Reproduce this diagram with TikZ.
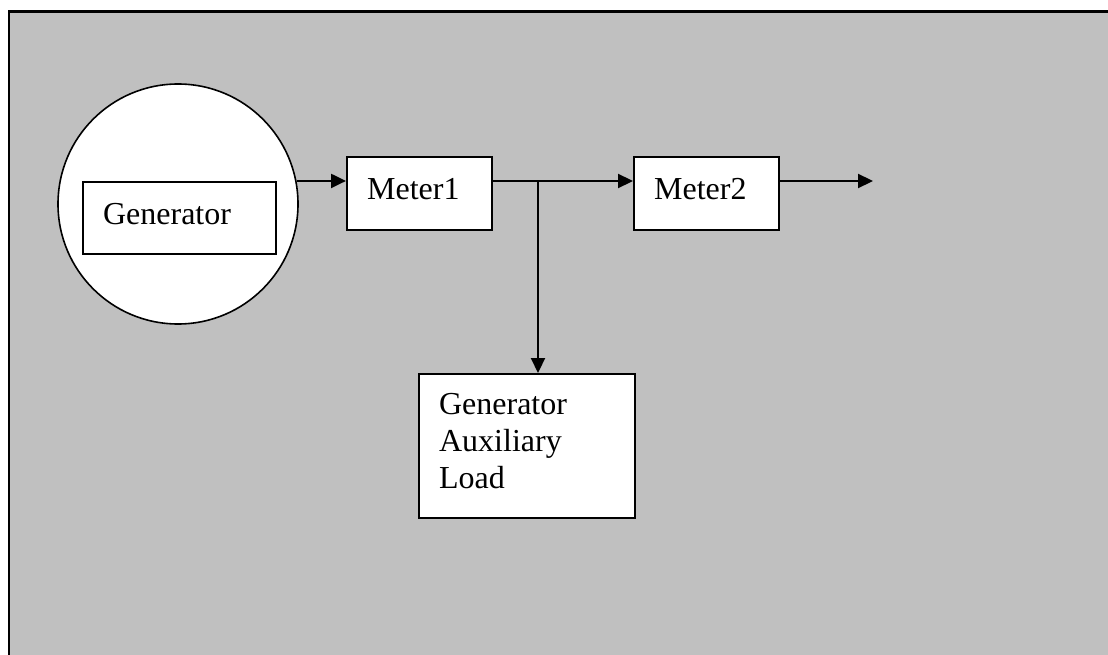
\documentclass[tikz,border=0pt]{standalone}
\usepackage{fontspec}
\setmainfont{Liberation Serif}
\usetikzlibrary{
    arrows.meta,
    positioning,
}
\definecolor{panelgray}{HTML}{C0C0C0}
\tikzstyle{box}=[draw,rectangle,fill=white,line width=2.2pt,anchor=north west,align=left,inner xsep=20pt,inner ysep=0pt,text height=22pt,text depth=10pt]
\tikzstyle{arr}=[line width=2.2pt,-{Triangle[length=15pt,width=14pt]}]

\begin{document}
\begin{tikzpicture}[x=1pt,y=-1pt,font=\fontsize{32}{37}\selectfont]
    \useasboundingbox (0,0) rectangle (1108,655);
    \clip (0,0) rectangle (1108,655);
    \draw[fill=panelgray,line width=2.4pt] (9,11.5) rectangle (1140,690);
    % generator
    \node[draw,circle,fill=white,line width=1.6pt,minimum size=240pt,inner sep=0pt] (gen) at (178,204) {};
    \node[box,text width=153pt,minimum height=72pt] (genbox) at (82,181) {Generator};
    % meters
    \node[box,text width=105pt,minimum height=73pt] (m1) at (346,156) {Meter1};
    \node[box,text width=105pt,minimum height=73pt] (m2) at (633,156) {Meter2};
    \node[box,text width=176pt,minimum height=144pt,text depth=86pt] (aux) at (418,373) {Generator\\Auxiliary\\Load};
    \coordinate (bus) at (538,181);
    \coordinate (out) at (873,181);
    % connections
    \draw[arr] (gen.11) -- (m1.west |- gen.11);
    \draw[line width=2.2pt] (m1.east |- bus) -- (bus);
    \draw[arr] (bus) -- (m2.west |- bus);
    \draw[arr] (bus) -- (bus |- aux.north);
    \draw[arr] (m2.east |- bus) -- (out);
\end{tikzpicture}
\end{document}
